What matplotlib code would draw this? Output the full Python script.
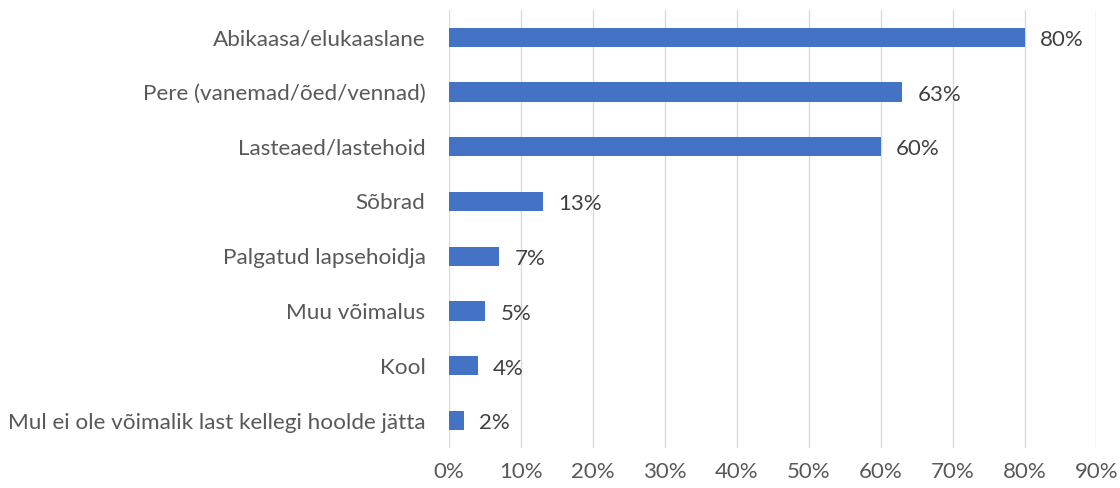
import matplotlib
matplotlib.use("Agg")
import matplotlib.pyplot as plt
from matplotlib.ticker import FuncFormatter

plt.rcParams["font.family"] = ["Lato", "DejaVu Sans"]

categories = [
    "Abikaasa/elukaaslane",
    "Pere (vanemad/õed/vennad)",
    "Lasteaed/lastehoid",
    "Sõbrad",
    "Palgatud lapsehoidja",
    "Muu võimalus",
    "Kool",
    "Mul ei ole võimalik last kellegi hoolde jätta",
]
values = [80, 63, 60, 13, 7, 5, 4, 2]
xticks = [0, 10, 20, 30, 40, 50, 60, 70, 80, 90]

label_color = "#595959"
value_color = "#404040"
bar_color = "#4472C4"

fig = plt.figure(figsize=(11.2, 4.88), dpi=100)
ax = fig.add_axes([0.401, 0.082, 0.578, 0.898])

y = list(range(len(categories)))
ax.barh(y, values, height=0.35, color=bar_color, zorder=3)
for yi, v in zip(y, values):
    ax.annotate(f"{v}%", (v, yi), xytext=(11, -2), textcoords="offset points",
                va="center", ha="left", fontsize=16, color=value_color)

ax.set_yticks(y)
ax.set_yticklabels(categories, fontsize=16.2, color=label_color)
ax.set_ylim(len(categories) - 0.5, -0.5)

ax.set_xlim(0, 90)
ax.set_xticks(xticks)
ax.xaxis.set_major_formatter(FuncFormatter(lambda v, p: f"{int(v)}%"))
ax.tick_params(axis="x", labelsize=16, colors=label_color, length=0, pad=10)
ax.tick_params(axis="y", length=0, pad=17)
ax.grid(axis="x", color="#D9D9D9", linewidth=1, zorder=0)
for s in ax.spines.values():
    s.set_visible(False)

fig.savefig("out.png", dpi=100)
